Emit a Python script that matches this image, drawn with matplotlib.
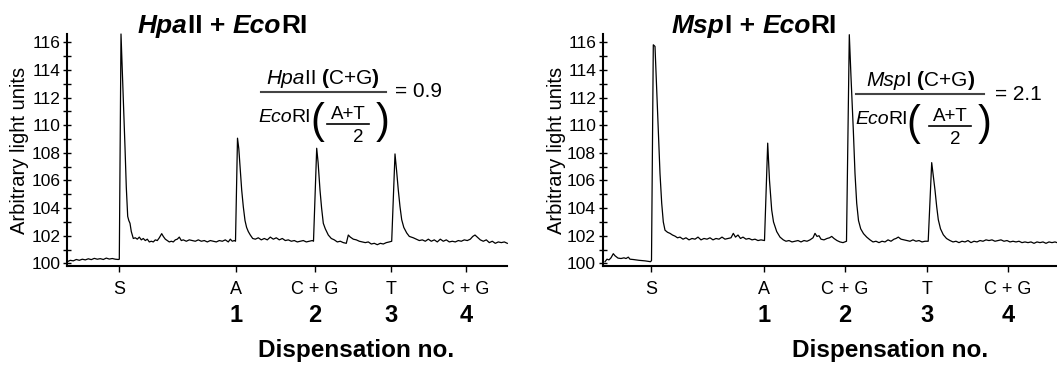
import numpy as np
import matplotlib.pyplot as plt
from matplotlib.transforms import IdentityTransform
from matplotlib.lines import Line2D

plt.rcParams['font.family'] = ['Liberation Sans', 'DejaVu Sans']

W, H = 1057, 368

# dispensation order shown under each trace
tick_labels = ['S', 'A', 'C + G', 'T', 'C + G']
disp_numbers = ['1', '2', '3', '4']

# HpaII + EcoRI trace (time in run units, signal in arbitrary light units)
left_ticks = [52, 168.4, 247.7, 323.7, 398.7]
left_time = [0, 3, 6, 9, 12, 15, 18, 21, 24, 27, 30, 33, 36, 39, 42, 45, 48, 51, 52,
             53.7, 55, 56.5, 57.7, 59, 60.4, 61.5, 62.7, 64, 66, 68, 70, 72, 74, 76, 78,
             80, 82, 84, 86, 88, 90, 92, 94.4, 96, 98, 100, 102, 104, 106, 108, 110, 112,
             114, 116, 119, 122, 125, 128, 131, 134, 137, 140, 143, 146, 149, 152, 155,
             158, 161, 163, 165, 167, 168.2,
             170.2, 171.5, 173, 174.4, 176, 177.7, 179.3, 181, 183, 185.4, 188, 191, 194,
             197, 200, 203, 206, 209, 212, 215, 218, 221, 224, 227, 230, 233, 236, 239,
             242, 245, 246.2,
             249.4, 250.8, 252.7, 254.3, 256, 258, 261, 264, 267, 270, 273, 276, 279, 281,
             283, 286, 289, 292, 295, 298, 301, 304, 307, 310, 313, 316, 319, 322, 324.4,
             327.7, 329.3, 331, 332.7, 334.4, 336.5, 339.4, 342, 346, 349, 352, 355, 358,
             361, 364, 367, 370, 373, 376, 379, 382, 385, 388, 391, 394, 397, 400, 403,
             405.5, 407.7, 410, 413, 416, 419, 422, 425, 428, 431, 434, 437, 440]
left_signal = [100.12, 100.22, 100.18, 100.28, 100.22, 100.30, 100.25, 100.33, 100.27,
               100.36, 100.30, 100.34, 100.28, 100.38, 100.31, 100.35, 100.30, 100.28, 100.3,
               116.6, 114.0, 111.0, 108.4, 105.5, 103.4, 103.1, 102.9, 102.3, 101.8, 101.85,
               101.75, 101.9, 101.7, 101.8, 101.65, 101.75, 101.55, 101.6, 101.55, 101.7,
               101.65, 101.85, 102.15, 101.95, 101.75, 101.65, 101.55, 101.6, 101.55, 101.7,
               101.75, 101.9, 101.65, 101.7, 101.6, 101.7, 101.65, 101.6, 101.7, 101.6,
               101.65, 101.55, 101.65, 101.6, 101.55, 101.65, 101.6, 101.7, 101.55, 101.75,
               101.6, 101.65, 101.6,
               109.06, 108.3, 106.8, 105.3, 104.1, 103.1, 102.6, 102.3, 102.05, 101.8,
               101.75, 101.85, 101.7, 101.8, 101.7, 101.9, 101.75, 101.85, 101.7, 101.8,
               101.65, 101.7, 101.6, 101.65, 101.55, 101.6, 101.65, 101.55, 101.6, 101.65,
               101.6,
               108.33, 107.3, 105.3, 104.0, 102.9, 102.5, 102.05, 101.8, 101.7, 101.55,
               101.6, 101.5, 101.45, 102.05, 101.9, 101.75, 101.7, 101.6, 101.55, 101.5,
               101.55, 101.4, 101.45, 101.35, 101.45, 101.4, 101.5, 101.55, 101.6,
               107.92, 106.7, 105.3, 104.1, 103.16, 102.6, 102.2, 101.95, 101.85, 101.75,
               101.65, 101.7, 101.6, 101.75, 101.6, 101.7, 101.55, 101.75, 101.6, 101.7,
               101.55, 101.6, 101.55, 101.65, 101.6, 101.7, 101.65, 101.75, 101.95, 102.05,
               101.9, 101.7, 101.6, 101.7, 101.5, 101.6, 101.45, 101.55, 101.5, 101.55,
               101.45]

# MspI + EcoRI trace
right_ticks = [46, 159.3, 240, 321.7, 403]
right_time = [0, 2, 4, 6, 8.3, 10, 13, 16, 19, 21, 23.3, 25, 28, 31, 34, 37, 40, 43, 45.5,
              46.5, 48.3, 50, 51.5, 53.3, 55, 56.7, 58.3, 60, 62.5, 65, 67.5, 70, 72.5, 75,
              78, 81, 84, 87, 90, 93, 96, 99, 102, 105, 108, 111, 114, 117, 120, 123, 126,
              128.3, 130.5, 133, 135.5, 138, 141, 144, 147, 150, 153, 156, 159.5,
              162.7, 164.5, 166.7, 168.5, 171.7, 175, 178.3, 181, 184, 187, 190, 193, 196,
              199, 202, 205, 208, 210, 212, 214, 216, 219, 222, 224.5, 226.7, 229, 232, 235,
              238, 241.5,
              244.3, 246, 248.3, 250, 251.7, 253.5, 255.7, 258.5, 261.7, 265, 268, 271, 274,
              277, 280, 283, 286, 289, 291, 293.3, 296, 299, 302, 305, 308, 311, 314, 317,
              320, 323.2,
              326.7, 328.3, 330, 331.7, 333.3, 335.5, 338.3, 341.5, 345, 348, 351, 354, 357,
              360, 363, 366, 369, 372, 375, 378, 381, 384, 387, 390, 393, 396, 399, 402, 405,
              408, 411, 414, 417, 420, 423, 426, 429, 432, 435, 438, 441, 444, 447, 450, 452]
right_signal = [100.12, 100.3, 100.25, 100.4, 100.7, 100.55, 100.38, 100.35, 100.4, 100.35,
                100.45, 100.3, 100.28, 100.25, 100.22, 100.2, 100.18, 100.15, 100.12,
                100.2, 115.82, 115.7, 113.0, 109.66, 106.5, 104.35, 103.0, 102.4, 102.25,
                102.17, 102.05, 101.97, 101.85, 101.9, 101.75, 101.85, 101.7, 101.8, 101.75,
                101.9, 101.7, 101.8, 101.75, 101.85, 101.7, 101.8, 101.75, 101.9, 101.75,
                101.8, 101.85, 102.17, 101.9, 102.05, 101.8, 101.9, 101.75, 101.8, 101.7,
                101.75, 101.65, 101.7, 101.65,
                108.7, 106.0, 103.86, 103.0, 102.3, 101.9, 101.7, 101.6, 101.65, 101.55,
                101.6, 101.65, 101.55, 101.65, 101.6, 101.7, 101.85, 102.17, 101.95, 102.0,
                101.75, 101.7, 101.8, 101.85, 101.95, 101.8, 101.65, 101.55, 101.5, 101.6,
                116.55, 113.5, 109.66, 106.5, 104.35, 103.1, 102.5, 102.15, 101.9, 101.7,
                101.55, 101.6, 101.5, 101.6, 101.55, 101.7, 101.6, 101.75, 101.8, 101.9,
                101.75, 101.7, 101.65, 101.6, 101.7, 101.6, 101.65, 101.55, 101.6, 101.6,
                107.29, 106.3, 105.3, 104.1, 103.16, 102.5, 102.07, 101.8, 101.65, 101.55,
                101.6, 101.5, 101.6, 101.55, 101.65, 101.5, 101.6, 101.55, 101.65, 101.6,
                101.7, 101.65, 101.7, 101.6, 101.65, 101.7, 101.6, 101.65, 101.55, 101.6,
                101.55, 101.6, 101.5, 101.55, 101.5, 101.55, 101.45, 101.55, 101.5, 101.55,
                101.45, 101.55, 101.5, 101.55, 101.5]

fig = plt.figure(figsize=(W / 100, H / 100), dpi=100)
renderer = fig.canvas.get_renderer()


def put_runs(x, y, parts, size, center=False):
    # draw pieces of text one after another, x/y in image pixels (y from top)
    texts = []
    cx = x
    for s, weight, style in parts:
        t = fig.text(cx, H - y, s, fontsize=size, fontweight=weight, fontstyle=style,
                     transform=IdentityTransform(), ha='left', va='baseline')
        texts.append(t)
        cx += t.get_window_extent(renderer).width
    if center:
        shift = (cx - x) / 2
        for t in texts:
            px, py = t.get_position()
            t.set_position((px - shift, py))


def hline(x0, x1, y, lw, color='black'):
    fig.add_artist(Line2D([x0, x1], [H - y, H - y], transform=IdentityTransform(),
                          color=color, lw=lw))


def pix_text(x, y, s, size, **kw):
    fig.text(x, H - y, s, fontsize=size, transform=IdentityTransform(), **kw)


def setup(ax, t, sig, ticks, xlim):
    ax.plot(t, sig, color='black', lw=0.9, clip_on=False)
    ax.set_xlim(*xlim)
    ax.set_ylim(99.83, 116.6)
    ax.spines[['top', 'right']].set_visible(False)
    ax.spines[['left', 'bottom']].set_linewidth(1.5)
    ax.set_yticks(range(100, 117, 2))
    ax.set_yticks(range(101, 117, 2), minor=True)
    ax.tick_params(axis='y', which='both', direction='inout', length=6, width=1.0,
                   labelsize=12.5, pad=2)
    ax.set_xticks(ticks, tick_labels)
    ax.tick_params(axis='x', direction='out', length=4.5, width=1.0, labelsize=13, pad=6.5)
    for xt, n in zip(ticks[1:], disp_numbers):
        ax.text(xt, (265.7 - 316) / 231.7, n, transform=ax.get_xaxis_transform(),
                ha='center', va='center', fontsize=17, fontweight='bold')


top = (368 - 34) / H
bot = (368 - 265.7) / H
ax1 = fig.add_axes([67.3 / W, bot, (507 - 67.3) / W, top - bot])
ax2 = fig.add_axes([603 / W, bot, (1057 - 603) / W, top - bot])
setup(ax1, left_time, left_signal, left_ticks, (0, 439.7))
setup(ax2, right_time, right_signal, right_ticks, (-2, 452))

for xc in (20, 556):
    pix_text(xc, 150, 'Arbitrary light units', 14.5, rotation=90, ha='center', va='center')
for xc in (356.5, 890):
    pix_text(xc, 351, 'Dispensation no.', 17.5, fontweight='bold', ha='center', va='center')

# titles
put_runs(138, 33, [('Hpa', 'bold', 'italic'), ('II + ', 'bold', 'normal'),
                   ('Eco', 'bold', 'italic'), ('RI', 'bold', 'normal')], 19)
put_runs(672, 33, [('Msp', 'bold', 'italic'), ('I + ', 'bold', 'normal'),
                   ('Eco', 'bold', 'italic'), ('RI', 'bold', 'normal')], 19)


def ratio_box(num_enzyme, num_suffix, num_cx, line_x0, line_x1, line_y, den_x,
              lpar_x, at_cx, two_cx, rpar_x, eq_x, eq_y, eq_text):
    put_runs(num_cx, line_y - 8.5, [(num_enzyme, 'normal', 'italic'),
                                    (num_suffix + ' ', 'normal', 'normal'),
                                    ('(', 'bold', 'normal'), ('C+G', 'normal', 'normal'),
                                    (')', 'bold', 'normal')], 15, center=True)
    hline(line_x0, line_x1, line_y, 1.5, color='#444444')
    put_runs(den_x, line_y + 30, [('Eco', 'normal', 'italic'), ('RI', 'normal', 'normal')], 14)
    pix_text(lpar_x, line_y + 30.5, '(', 30, ha='center', va='center')
    pix_text(rpar_x, line_y + 30.5, ')', 30, ha='center', va='center')
    pix_text(at_cx, line_y + 26.6, 'A+T', 13.5, ha='center', va='baseline')
    hline(at_cx - 21, at_cx + 21, line_y + 31.5, 1.2)
    pix_text(two_cx, line_y + 50, '2', 13.5, ha='center', va='baseline')
    pix_text(eq_x, eq_y, eq_text, 15, ha='left', va='baseline')


ratio_box('Hpa', 'II', 323, 261, 386, 92, 258, 317, 348, 358, 383, 395, 97, '= 0.9')
ratio_box('Msp', 'I', 920.5, 856, 984, 94, 855, 913, 950, 955, 985, 995, 100, '= 2.1')

fig.savefig('out.png', dpi=100)
